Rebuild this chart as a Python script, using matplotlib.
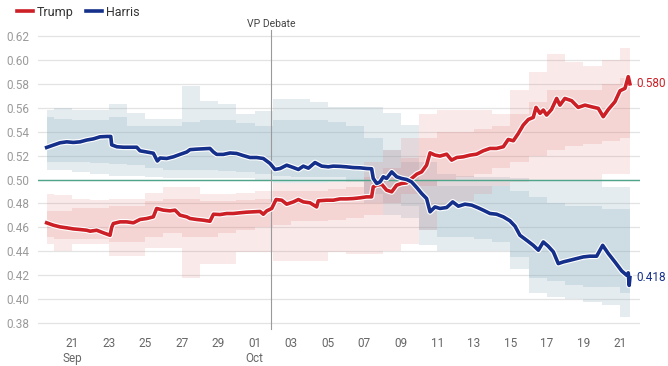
import numpy as np
import matplotlib
matplotlib.use("Agg")
import matplotlib.pyplot as plt
import matplotlib.patheffects as pe

plt.rcParams['font.family'] = ['Roboto', 'DejaVu Sans']

# days after 2024-09-21 00:00 and price
trump_t = [-1.39, -1.02, -0.66, -0.29, 0.07, 0.44, 0.80, 0.99, 1.35, 1.72, 2.08, 2.17, 2.26,
           2.63, 2.99, 3.36, 3.72, 4.09, 4.45, 4.63, 5.00, 5.36, 5.64, 5.91, 6.28, 6.46,
           6.82, 7.19, 7.55, 7.74, 8.10, 8.47, 8.83, 9.20, 9.56, 9.93, 10.29, 10.47, 10.66,
           10.93, 11.17, 11.48, 11.75, 12.12, 12.39, 12.66, 13.03, 13.39, 13.48, 13.94, 14.30,
           14.67, 15.03, 15.40, 15.76, 16.13, 16.40, 16.49, 16.68, 16.95, 17.22, 17.50, 17.77,
           18.04, 18.32, 18.59, 18.87, 19.14, 19.41, 19.60, 19.87, 20.14, 20.51, 20.78, 21.06,
           21.42, 21.79, 22.15, 22.51, 22.88, 23.24, 23.61, 23.88, 24.16, 24.43, 24.70, 24.98,
           25.25, 25.40, 25.62, 25.80, 25.98, 26.25, 26.53, 26.71, 26.98, 27.35, 27.71, 28.08,
           28.44, 28.81, 29.08, 29.36, 29.72, 30.00, 30.27, 30.45, 30.54]
trump_p = [0.4638, 0.4618, 0.4604, 0.4596, 0.4587, 0.4582, 0.4576, 0.4568, 0.4576, 0.4554,
           0.4534, 0.4600, 0.4632, 0.4646, 0.4646, 0.4638, 0.4666, 0.4674, 0.4688, 0.4758,
           0.4744, 0.4738, 0.4744, 0.4702, 0.4688, 0.4674, 0.4666, 0.4660, 0.4651, 0.4710,
           0.4707, 0.4716, 0.4716, 0.4722, 0.4727, 0.4730, 0.4733, 0.4710, 0.4738, 0.4758,
           0.4833, 0.4827, 0.4794, 0.4813, 0.4833, 0.4813, 0.4805, 0.4771, 0.4822, 0.4827,
           0.4827, 0.4838, 0.4838, 0.4841, 0.4847, 0.4855, 0.4855, 0.4939, 0.4953, 0.4961,
           0.4911, 0.4897, 0.4953, 0.4967, 0.4972, 0.5009, 0.5045, 0.5064, 0.5120, 0.5223,
           0.5204, 0.5196, 0.5212, 0.5162, 0.5184, 0.5190, 0.5204, 0.5212, 0.5240, 0.5260,
           0.5260, 0.5274, 0.5335, 0.5324, 0.5385, 0.5455, 0.5502, 0.5519, 0.5603, 0.5553,
           0.5581, 0.5539, 0.5586, 0.5678, 0.5622, 0.5678, 0.5659, 0.5603, 0.5622, 0.5608,
           0.5595, 0.5525, 0.5586, 0.5650, 0.5742, 0.5762, 0.5860, 0.5800]

harris_t = [-1.39, -1.02, -0.66, -0.29, 0.07, 0.44, 0.80, 1.17, 1.53, 1.90, 2.12, 2.17, 2.45,
            2.81, 3.18, 3.54, 3.72, 4.09, 4.45, 4.67, 4.82, 5.18, 5.55, 5.91, 6.28, 6.46,
            6.82, 7.19, 7.55, 7.74, 7.92, 8.28, 8.65, 9.01, 9.38, 9.74, 10.11, 10.47, 10.84,
            11.11, 11.39, 11.75, 12.12, 12.39, 12.66, 12.94, 13.30, 13.67, 14.03, 14.30, 14.67,
            15.03, 15.40, 15.76, 16.13, 16.40, 16.49, 16.68, 16.86, 17.04, 17.22, 17.50, 17.77,
            18.04, 18.32, 18.59, 18.87, 19.14, 19.41, 19.60, 19.87, 20.14, 20.51, 20.84, 21.15,
            21.51, 21.88, 22.24, 22.51, 22.88, 23.24, 23.61, 23.97, 24.25, 24.52, 24.89, 25.25,
            25.53, 25.80, 26.07, 26.35, 26.62, 26.89, 27.26, 27.62, 27.99, 28.35, 28.72, 29.05,
            29.36, 29.72, 30.09, 30.36, 30.45, 30.50, 30.54]
harris_p = [0.5268, 0.5288, 0.5307, 0.5315, 0.5310, 0.5315, 0.5330, 0.5340, 0.5357, 0.5360,
            0.5360, 0.5290, 0.5274, 0.5270, 0.5270, 0.5270, 0.5240, 0.5230, 0.5220, 0.5155,
            0.5180, 0.5176, 0.5190, 0.5210, 0.5230, 0.5250, 0.5254, 0.5257, 0.5260, 0.5230,
            0.5210, 0.5210, 0.5222, 0.5218, 0.5200, 0.5184, 0.5184, 0.5176, 0.5134, 0.5084,
            0.5092, 0.5120, 0.5100, 0.5084, 0.5112, 0.5095, 0.5142, 0.5112, 0.5106, 0.5112,
            0.5110, 0.5106, 0.5100, 0.5098, 0.5092, 0.5090, 0.5009, 0.4967, 0.4980, 0.5023,
            0.5009, 0.5064, 0.5023, 0.5009, 0.5000, 0.4980, 0.4933, 0.4883, 0.4841, 0.4730,
            0.4771, 0.4758, 0.4766, 0.4813, 0.4777, 0.4794, 0.4786, 0.4763, 0.4744, 0.4716,
            0.4710, 0.4688, 0.4655, 0.4610, 0.4534, 0.4492, 0.4450, 0.4409, 0.4478, 0.4442,
            0.4395, 0.4297, 0.4311, 0.4325, 0.4339, 0.4353, 0.4359, 0.4359, 0.4450, 0.4381,
            0.4311, 0.4236, 0.4200, 0.4220, 0.4115, 0.4180]

# band breakpoints (days), value holds until next breakpoint
band_t = [-1.39, -1, 0, 1, 2, 3, 4, 5, 6, 7, 8, 9, 10, 11, 12, 13, 14, 15, 16, 17, 18, 19,
          20, 21, 22, 23, 24, 25, 26, 27, 28, 29, 30, 30.54]
harris_outer_hi = [.558, .560, .558, .558, .563, .556, .551, .551, .578, .566, .563, .555, .557,
                   .567, .567, .565, .561, .561, .561, .556, .546, .515, .505, .503, .502, .502,
                   .501, .500, .500, .500, .500, .494, .494, .494]
harris_outer_lo = [.508, .508, .506, .505, .503, .503, .502, .501, .501, .501, .501, .501, .500,
                   .497, .497, .497, .498, .498, .480, .470, .468, .445, .440, .440, .440, .440,
                   .425, .405, .402, .400, .398, .395, .385, .385]
harris_inner_hi = [.552, .551, .550, .550, .552, .545, .545, .545, .548, .550, .550, .547, .545,
                   .550, .550, .550, .548, .545, .535, .525, .515, .500, .495, .495, .495, .495,
                   .490, .485, .480, .478, .478, .475, .475, .475]
harris_inner_lo = [.515, .515, .515, .514, .513, .512, .510, .508, .508, .508, .507, .506, .505,
                   .503, .502, .502, .502, .500, .488, .480, .478, .458, .452, .452, .450, .448,
                   .435, .418, .415, .412, .410, .410, .405, .405]
trump_outer_hi = [.488, .487, .484, .483, .484, .484, .489, .494, .494, .488, .488, .489, .490,
                  .497, .497, .497, .498, .499, .515, .525, .535, .555, .558, .558, .558, .555,
                  .575, .590, .605, .598, .595, .600, .610, .610]
trump_outer_lo = [.446, .440, .446, .446, .436, .436, .443, .443, .418, .429, .429, .439, .439,
                  .432, .432, .432, .439, .438, .438, .440, .446, .458, .478, .482, .488, .495,
                  .498, .500, .500, .500, .500, .505, .505, .505]
trump_inner_hi = [.474, .474, .476, .476, .478, .478, .482, .484, .484, .482, .482, .483, .484,
                  .490, .490, .490, .492, .494, .502, .510, .518, .535, .540, .540, .542, .545,
                  .555, .565, .575, .575, .575, .580, .585, .585]
trump_inner_lo = [.452, .450, .450, .450, .448, .448, .452, .455, .452, .452, .455, .458, .460,
                  .462, .465, .465, .466, .468, .470, .480, .488, .495, .500, .502, .505, .510,
                  .515, .520, .525, .528, .530, .532, .535, .535]

debate_day = 10.9
tick_days = list(range(0, 31, 2))

base = np.datetime64('2024-09-21T00:00')


def to_dt(days):
    return base + (np.asarray(days, dtype=float) * 1440).round().astype('timedelta64[m]')


RED = '#cc1f26'
BLUE = '#15308a'

fig = plt.figure(figsize=(6.68, 3.66), dpi=100)
ax = fig.add_axes([0.057, 0.101, 0.901, 0.817])

bt = to_dt(band_t)
ax.fill_between(bt, harris_outer_lo, harris_outer_hi, step='post', color='#7aa3b6', alpha=0.2, lw=0)
ax.fill_between(bt, harris_inner_lo, harris_inner_hi, step='post', color='#7aa3b6', alpha=0.2, lw=0)
ax.fill_between(bt, trump_outer_lo, trump_outer_hi, step='post', color='#e06a6a', alpha=0.14, lw=0)
ax.fill_between(bt, trump_inner_lo, trump_inner_hi, step='post', color='#e06a6a', alpha=0.16, lw=0)

ax.axhline(0.5, color='#4ea58c', lw=1, zorder=3)
ax.axvline(to_dt([debate_day])[0], color='#9a9a9a', lw=0.8, zorder=3, clip_on=False)
ax.text(to_dt([debate_day])[0], 0.6255, 'VP Debate', ha='center', va='bottom',
        fontsize=7.5, color='#444444')

stroke = [pe.Stroke(linewidth=4.2, foreground='white'), pe.Normal()]
ax.plot(to_dt(trump_t), trump_p, color=RED, lw=2.6, zorder=5, path_effects=stroke,
        solid_joinstyle='round', label='Trump')
ax.plot(to_dt(harris_t), harris_p, color=BLUE, lw=2.6, zorder=5, path_effects=stroke,
        solid_joinstyle='round', label='Harris')

ax.text(to_dt([30.9])[0], trump_p[-1], f'{trump_p[-1]:.3f}', color=RED, fontsize=8.5,
        va='center', ha='left')
ax.text(to_dt([30.9])[0], harris_p[-1], f'{harris_p[-1]:.3f}', color=BLUE, fontsize=8.5,
        va='center', ha='left')

ax.set_xlim(to_dt([-1.86])[0], to_dt([31.09])[0])
ax.set_ylim(0.375, 0.625)
ax.set_yticks(np.arange(0.38, 0.621, 0.02))
ax.yaxis.set_major_formatter(matplotlib.ticker.FormatStrFormatter('%.2f'))
ax.grid(axis='y', color='#e3e3e3', lw=0.9)
ax.set_axisbelow(True)

ticks = to_dt(tick_days)
labels = []
for tk in ticks:
    d = tk.astype(object)
    lab = d.strftime('%d')
    if (d.day == 21 and d.month == 9) or d.day == 1:
        lab += '\n' + d.strftime('%b')
    labels.append(lab)
ax.set_xticks(ticks)
ax.set_xticklabels(labels)

ax.tick_params(axis='both', length=0, labelsize=8.5)
ax.tick_params(axis='y', colors='#9a9a9a', pad=6)
ax.tick_params(axis='x', colors='#666666', pad=6)
for s in ax.spines.values():
    s.set_visible(False)

fig.legend(loc='upper left', bbox_to_anchor=(0.008, 1.015), ncol=2, frameon=False,
           fontsize=9, handlelength=1.3, handletextpad=0.3, columnspacing=1.0,
           labelcolor='#333333')

fig.savefig('out.png', dpi=100)
